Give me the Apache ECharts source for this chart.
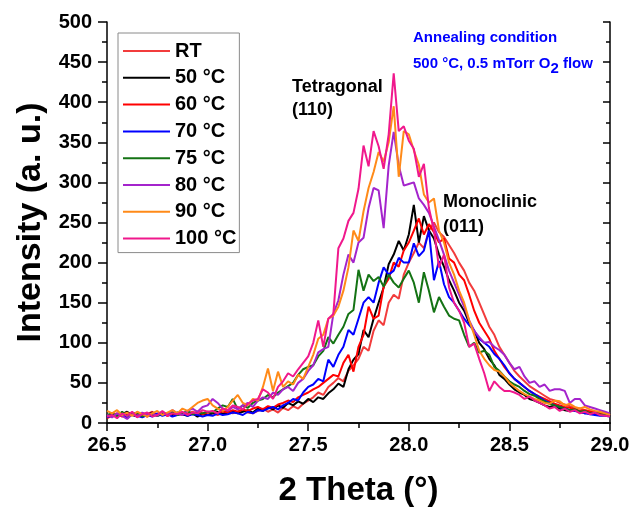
<!DOCTYPE html>
<html><head><meta charset="utf-8">
<script src="https://cdn.jsdelivr.net/npm/echarts@6/dist/echarts.min.js"></script>
<style>html,body{margin:0;padding:0;background:#fff}#c{width:635px;height:512px}</style>
</head><body><div id="c"></div>
<script>
// 2 Theta positions (degrees)
const twoTheta = [
 26.500,26.525,26.550,26.575,26.600,26.625,26.650,26.675,26.700,26.725,
 26.750,26.775,26.800,26.825,26.850,26.875,26.900,26.925,26.950,26.975,
 27.000,27.025,27.050,27.075,27.100,27.125,27.150,27.175,27.200,27.225,
 27.250,27.275,27.300,27.325,27.350,27.375,27.400,27.425,27.450,27.475,
 27.500,27.525,27.550,27.575,27.600,27.625,27.650,27.675,27.700,27.725,
 27.750,27.775,27.800,27.825,27.850,27.875,27.900,27.925,27.950,27.975,
 28.000,28.025,28.050,28.075,28.100,28.125,28.150,28.175,28.200,28.225,
 28.250,28.275,28.300,28.325,28.350,28.375,28.400,28.425,28.450,28.475,
 28.500,28.525,28.550,28.575,28.600,28.625,28.650,28.675,28.700,28.725,
 28.750,28.775,28.800,28.825,28.850,28.875,28.900,28.925,28.950,28.975,
 29.000];

const seriesNames = ['RT','50 °C','60 °C','70 °C','75 °C','80 °C','90 °C','100 °C'];

const intensityRT = [
 10,8,11,9,13,10,12,8,11,14,
 10,12,9,13,11,10,12,14,11,13,
 10,12,10,13,15,12,14,16,13,12,
 15,18,14,17,13,19,16,21,18,24,
 28,32,38,35,45,50,56,52,65,72,
 80,95,90,115,128,122,150,160,155,185,
 200,212,225,218,240,250,238,232,222,212,
 200,190,175,165,150,135,120,110,95,85,
 75,65,58,52,46,42,38,34,30,28,
 25,23,21,19,18,16,15,14,13,12,
 10];
const intensity50 = [
 8,12,9,11,14,10,8,12,10,13,
 9,11,12,10,13,11,9,12,8,11,
 10,12,14,11,13,15,12,14,16,13,
 18,15,20,17,22,19,25,22,27,24,
 30,26,32,30,37,42,49,45,67,79,
 86,116,107,130,150,169,198,210,227,215,
 235,272,225,258,240,230,210,195,178,165,
 150,140,125,115,100,92,80,72,60,55,
 48,42,38,35,30,28,25,22,20,22,
 18,16,15,17,14,12,13,11,10,12,
 8];
const intensity60 = [
 6,9,12,8,10,13,9,11,8,12,
 10,14,9,12,11,13,10,12,14,11,
 13,14,12,15,13,16,14,17,15,18,
 20,17,21,19,23,25,28,26,32,35,
 38,42,45,50,55,60,58,75,85,64,
 95,110,145,130,134,170,180,200,195,215,
 225,240,255,235,248,238,225,230,205,200,
 185,178,160,140,125,115,105,90,80,70,
 62,55,50,45,40,36,33,30,27,24,
 22,20,19,17,15,16,14,13,12,11,
 9];
const intensity70 = [
 7,10,8,12,6,11,9,7,10,8,
 12,9,11,8,10,12,9,11,10,8,
 10,9,12,10,11,13,12,10,14,12,
 16,15,18,20,17,22,25,30,28,38,
 45,48,55,52,79,70,85,95,116,110,
 130,150,157,150,175,194,185,190,206,200,
 200,224,208,215,240,178,202,173,157,150,
 140,130,122,115,105,100,95,86,80,72,
 62,55,50,45,40,36,32,28,25,22,
 20,18,16,15,14,12,11,10,9,9,
 8];
const intensity75 = [
 10,12,8,14,9,11,13,8,12,10,
 9,13,11,14,10,12,15,11,13,12,
 14,13,18,22,20,30,17,22,19,25,
 28,30,35,32,38,42,46,50,60,67,
 70,72,83,90,107,99,110,120,136,141,
 191,165,185,177,182,170,185,175,169,180,
 190,175,150,188,165,138,157,145,134,130,
 128,110,95,100,88,90,85,70,65,58,
 52,48,45,40,36,34,30,27,24,22,
 20,18,16,17,14,15,12,13,11,10,
 9];
const intensity80 = [
 10,7,12,9,5,11,8,13,10,12,
 9,14,11,16,12,10,15,18,14,20,
 22,30,25,18,15,20,17,22,25,20,
 28,32,30,38,35,42,45,40,50,55,
 65,72,88,92,95,136,153,185,210,200,
 225,231,268,293,290,243,321,363,321,296,
 298,300,280,272,262,245,228,210,190,175,
 160,145,128,115,107,100,101,95,91,85,
 75,67,70,58,50,52,45,48,40,42,
 42,40,25,30,30,22,20,18,16,14,
 12];
const intensity90 = [
 15,12,16,10,13,9,14,11,8,12,
 15,10,13,16,12,18,15,20,25,28,
 30,22,18,15,20,28,35,25,22,30,
 28,45,68,40,64,45,52,48,60,55,
 70,85,105,110,130,134,145,165,194,240,
 227,264,293,313,338,326,350,395,307,364,
 360,340,322,285,275,280,240,225,200,185,
 165,150,128,110,90,80,72,66,64,58,
 50,45,40,36,33,30,28,25,24,28,
 27,22,24,20,18,20,17,15,14,12,
 10];
const intensity100 = [
 8,10,6,12,9,14,7,11,13,8,
 10,15,9,12,11,14,10,13,12,16,
 14,15,12,18,16,22,20,17,24,28,
 30,42,38,30,45,52,62,58,67,75,
 83,100,128,95,130,136,218,230,252,262,
 292,346,320,364,345,317,360,436,364,370,
 352,342,307,323,268,240,194,210,169,150,
 140,125,95,99,80,62,40,52,45,40,
 40,38,35,30,33,28,25,22,18,20,
 15,18,14,16,12,14,11,13,10,9,
 8];

const xTickMin = 26.5, xTickMax = 29.0, xTickStep = 0.5;
const yTickMin = 0, yTickMax = 500, yTickStep = 50;

const allIntensity = [intensityRT,intensity50,intensity60,intensity70,intensity75,intensity80,intensity90,intensity100];
const colors = ['#f23c3c','#000000','#ff0000','#0000ff','#147314','#a424cc','#ff8a18','#f0188c'];
const FONT = '"Liberation Sans", Arial, sans-serif';

const chart = echarts.init(document.getElementById('c'), null, {renderer:'canvas'});
const axisLine = {show:true, lineStyle:{color:'#000', width:1.5}};
chart.setOption({
  animation:false,
  backgroundColor:'#fff',
  grid:{left:107, right:25, top:22, bottom:85, containLabel:false},
  legend:{
    orient:'vertical', left:118, top:33,
    itemWidth:47, itemHeight:18, itemGap:6.8,
    padding:[8,3,4,4],
    borderColor:'#8a8a8a', borderWidth:1,
    itemStyle:{opacity:0, borderWidth:0},
    lineStyle:{width:2},
    textStyle:{fontSize:20, fontWeight:'bold', color:'#000', fontFamily:FONT, lineHeight:18},
    data:seriesNames
  },
  xAxis:[{
    type:'value', min:xTickMin, max:xTickMax, interval:xTickStep, position:'bottom',
    axisLine:axisLine,
    axisTick:{show:true, inside:false, length:8, lineStyle:{color:'#000', width:1.5}},
    minorTick:{show:true, splitNumber:2, length:5, lineStyle:{color:'#000', width:1.5}},
    splitLine:{show:false},
    axisLabel:{fontSize:20, fontWeight:'bold', color:'#000', fontFamily:FONT, margin:12,
      formatter:v=>v.toFixed(1)},
    name:'2 Theta (°)', nameLocation:'middle', nameGap:51,
    nameTextStyle:{fontSize:33, fontWeight:'bold', color:'#000', fontFamily:FONT}
  },{
    type:'value', min:xTickMin, max:xTickMax, interval:xTickStep, position:'top',
    axisLine:axisLine,
    axisTick:{show:true, inside:true, length:7, lineStyle:{color:'#000', width:1.5}},
    minorTick:{show:true, splitNumber:2, length:4, lineStyle:{color:'#000', width:1.5}},
    splitLine:{show:false}, axisLabel:{show:false}
  }],
  yAxis:[{
    type:'value', min:yTickMin, max:yTickMax, interval:yTickStep, position:'left',
    axisLine:axisLine,
    axisTick:{show:true, inside:false, length:9, lineStyle:{color:'#000', width:1.5}},
    minorTick:{show:true, splitNumber:2, length:5, lineStyle:{color:'#000', width:1.5}},
    splitLine:{show:false},
    axisLabel:{fontSize:20, fontWeight:'bold', color:'#000', fontFamily:FONT, margin:15},
    name:'Intensity (a. u.)', nameLocation:'middle', nameGap:50,
    nameTextStyle:{fontSize:34, fontWeight:'bold', color:'#000', fontFamily:FONT}
  },{
    type:'value', min:yTickMin, max:yTickMax, interval:yTickStep, position:'right',
    axisLine:axisLine,
    axisTick:{show:true, inside:true, length:7, lineStyle:{color:'#000', width:1.5}},
    minorTick:{show:true, splitNumber:2, length:4, lineStyle:{color:'#000', width:1.5}},
    splitLine:{show:false}, axisLabel:{show:false}
  }],
  graphic:[
    {type:'text', left:413, top:30, style:{text:'Annealing condition', fill:'#0000ff', font:'bold 15px '+FONT}},
    {type:'text', left:413, top:56, style:{
      text:'{a|500 °C, 0.5 mTorr O}{s|2}{a| flow}',
      rich:{
        a:{fill:'#0000ff', font:'bold 15px '+FONT, lineHeight:16, verticalAlign:'top'},
        s:{fill:'#0000ff', font:'bold 15px '+FONT, lineHeight:16, padding:[5,0,0,0], verticalAlign:'top'}
      }}},
    {type:'text', left:292, top:78, style:{text:'Tetragonal', fill:'#000', font:'bold 18px '+FONT}},
    {type:'text', left:292, top:101, style:{text:'(110)', fill:'#000', font:'bold 18px '+FONT}},
    {type:'text', left:443, top:193, style:{text:'Monoclinic', fill:'#000', font:'bold 18px '+FONT}},
    {type:'text', left:443, top:218, style:{text:'(011)', fill:'#000', font:'bold 18px '+FONT}}
  ],
  series: seriesNames.map((name,k)=>({
    name:name, type:'line', xAxisIndex:0, yAxisIndex:0,
    symbol:'none', showSymbol:false,
    color:colors[k],
    lineStyle:{width:2, color:colors[k]},
    data: twoTheta.map((x,i)=>[x, allIntensity[k][i]])
  }))
});
</script></body></html>
